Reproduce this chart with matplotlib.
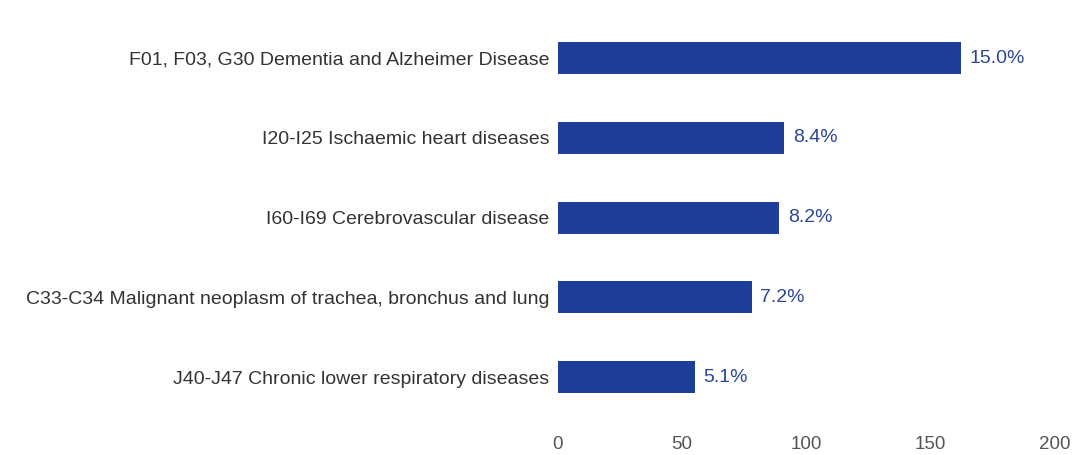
import matplotlib
matplotlib.use('Agg')
import matplotlib.pyplot as plt

plt.rcParams['font.family'] = ['Liberation Sans', 'DejaVu Sans']

categories = [
    "F01, F03, G30 Dementia and Alzheimer Disease",
    "I20-I25 Ischaemic heart diseases",
    "I60-I69 Cerebrovascular disease",
    "C33-C34 Malignant neoplasm of trachea, bronchus and lung",
    "J40-J47 Chronic lower respiratory diseases",
]
values = [162, 91, 89, 78, 55]
pct_labels = ["15.0%", "8.4%", "8.2%", "7.2%", "5.1%"]
xticks = [0, 50, 100, 150, 200]

fig = plt.figure(figsize=(10.81, 4.55), dpi=100)
ax = fig.add_axes([0.516, 0.0835, 0.46, 0.8765])

ypos = list(range(len(categories)))
ax.barh(ypos, values, height=0.4, color="#1d3f9b")
for y, v, lab in zip(ypos, values, pct_labels):
    ax.text(v + 3.5, y, lab, va="center", ha="left", fontsize=14, color="#2b4597")

ax.set_yticks(ypos)
ax.set_yticklabels(categories, fontsize=14, color="#333333")
ax.set_ylim(len(categories) - 0.5, -0.5)
ax.set_xlim(0, 200)
ax.set_xticks(xticks)
ax.set_xticklabels([str(t) for t in xticks], fontsize=13.5, color="#555555")
ax.tick_params(length=0)
ax.tick_params(axis="y", pad=6)
ax.tick_params(axis="x", pad=14)
for s in ax.spines.values():
    s.set_visible(False)

fig.savefig("out.png", dpi=100)
